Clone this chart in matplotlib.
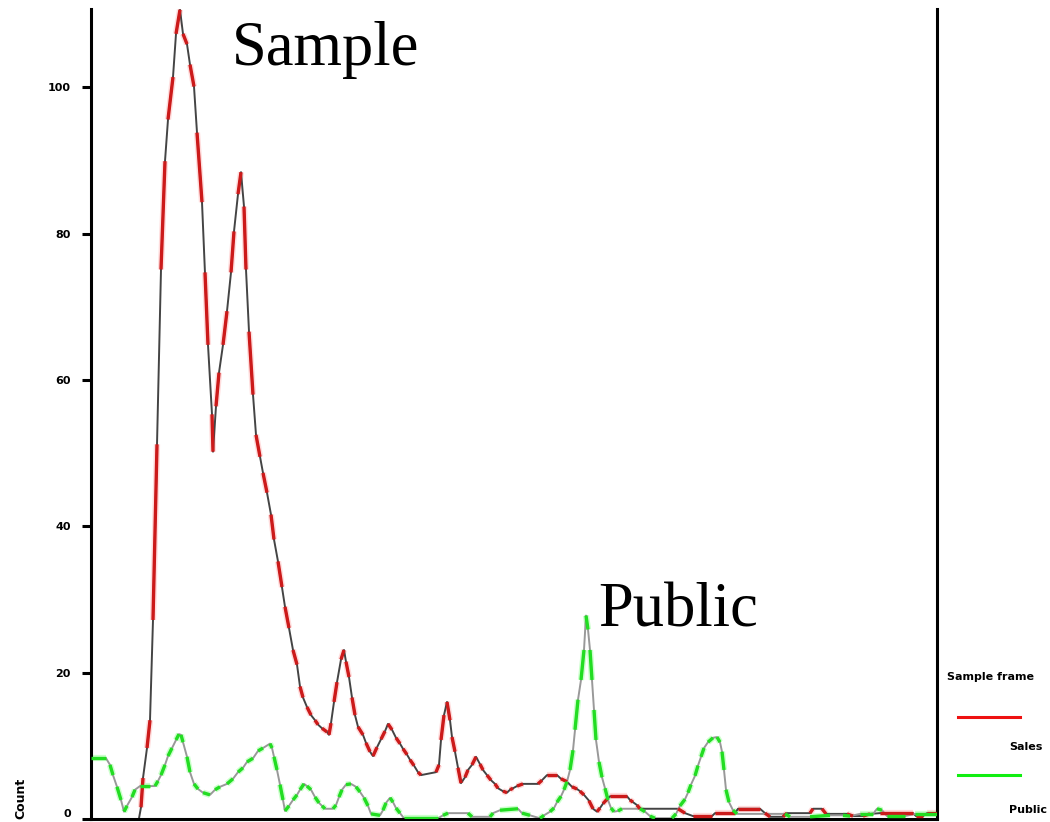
import matplotlib
matplotlib.use("Agg")
import matplotlib.pyplot as plt
from matplotlib.collections import LineCollection
from matplotlib.lines import Line2D
import numpy as np

# ---------------- data ----------------
sample_x = [48, 50, 52, 56, 59, 62, 66, 70, 74, 77, 82, 85, 89, 92, 96, 99, 103, 106, 111, 114,
            117, 121, 122, 125, 128, 132, 136, 140, 143, 147, 150, 153, 155, 158, 162, 165, 169,
            172, 176, 180, 183, 187, 191, 194, 198, 202, 206, 209, 212, 216, 220, 224, 227, 231,
            236, 238, 240, 243, 246, 250, 253, 255, 258, 261, 264, 267, 272, 275, 279, 282, 286,
            290, 294, 297, 301, 305, 309, 312, 316, 319, 323, 327, 330, 345, 348, 350, 353, 356,
            359, 361, 364, 367, 370, 374, 377, 381, 385, 389, 392, 396, 400, 404, 407, 412, 416,
            419, 422, 426, 432, 447, 451, 456, 466, 470, 476, 481, 486, 489, 493, 498, 502, 506,
            509, 512, 516, 519, 536, 539, 542, 546, 549, 587, 594, 602, 621, 624, 644, 647, 669,
            674, 679, 692, 696, 719, 722, 731, 735, 756, 762, 772, 779, 789, 822, 825, 832, 836, 846]
sample_y = [0.1, 1.6, 5.6, 9.7, 13.5, 27.2, 51.2, 75.1, 89.9, 95.6, 101.4, 107.3, 110.6, 107.3,
            105.9, 103.1, 100.1, 93.8, 84.3, 74.7, 64.8, 55.3, 50.2, 56.4, 61.0, 64.8, 69.4, 74.7,
            80.3, 85.4, 88.4, 83.7, 75.1, 66.6, 58.0, 52.5, 49.5, 47.3, 44.6, 41.6, 38.2, 35.2,
            31.7, 29.0, 26.1, 23.1, 21.1, 18.1, 16.6, 15.3, 14.2, 13.5, 12.9, 12.4, 11.9, 11.5,
            13.1, 16.0, 18.7, 21.8, 23.1, 21.5, 19.4, 16.6, 14.2, 12.6, 11.5, 10.4, 9.2, 8.6, 9.8,
            10.9, 12.0, 13.0, 12.2, 11.1, 10.3, 9.6, 8.8, 8.1, 7.3, 6.4, 6.0, 6.4, 7.4, 10.8, 14.2,
            16.0, 13.5, 11.2, 9.2, 7.0, 4.9, 5.7, 6.7, 7.4, 8.5, 7.5, 6.7, 6.0, 5.3, 4.8, 4.2, 3.8,
            3.6, 4.0, 4.2, 4.5, 4.8, 4.8, 5.3, 6.0, 6.0, 5.5, 5.1, 4.4, 4.1, 3.8, 3.3, 2.5, 1.4,
            1.0, 1.5, 2.1, 2.7, 3.1, 3.1, 2.6, 2.3, 1.9, 1.4, 1.4, 0.8, 0.4, 0.4, 0.8, 0.8, 1.4,
            1.4, 0.8, 0.3, 0.3, 0.8, 0.8, 1.4, 1.4, 0.7, 0.7, 0.4, 0.4, 0.7, 0.8, 0.8, 0.4, 0.4,
            0.8, 0.8]

public_x = [0, 15, 19, 22, 26, 30, 33, 36, 41, 44, 49, 59, 64, 67, 70, 74, 77, 81, 85, 88, 90,
            92, 96, 99, 103, 107, 112, 119, 124, 129, 136, 142, 147, 152, 156, 162, 167, 172, 179,
            181, 183, 186, 189, 192, 194, 198, 202, 206, 209, 213, 216, 220, 224, 228, 231, 234,
            242, 245, 248, 251, 255, 260, 265, 269, 273, 277, 280, 289, 292, 295, 299, 302, 305,
            309, 313, 347, 352, 357, 377, 381, 399, 402, 409, 427, 431, 439, 449, 453, 459, 463,
            466, 470, 473, 476, 479, 482, 484, 487, 490, 493, 495, 497, 499, 501, 503, 505, 508,
            511, 514, 517, 520, 523, 527, 531, 549, 554, 559, 564, 581, 585, 589, 594, 597, 600,
            604, 607, 610, 613, 617, 622, 626, 629, 631, 633, 635, 638, 642, 646, 694, 699, 719,
            739, 752, 759, 769, 782, 786, 791, 796, 814, 824, 846]
public_y = [8.3, 8.3, 7.4, 6.0, 4.4, 2.6, 1.0, 1.8, 3.0, 4.0, 4.5, 4.5, 4.5, 5.2, 6.0, 7.4, 8.6,
            9.7, 10.8, 11.6, 11.5, 10.5, 8.5, 6.4, 4.8, 4.1, 3.6, 3.3, 4.0, 4.4, 4.8, 5.5, 6.4,
            7.0, 7.8, 8.3, 9.3, 9.7, 10.3, 9.7, 8.5, 6.7, 4.7, 2.6, 1.1, 1.8, 2.6, 3.3, 4.0, 4.8,
            4.5, 4.0, 3.0, 2.2, 1.8, 1.4, 1.4, 1.9, 3.0, 4.0, 4.7, 4.8, 4.4, 3.7, 2.9, 1.8, 0.7,
            0.5, 1.2, 2.2, 2.9, 2.3, 1.5, 0.8, 0.1, 0.1, 0.5, 0.8, 0.8, 0.3, 0.3, 0.8, 1.2, 1.4,
            0.8, 0.5, 0.1, 0.5, 1.0, 1.5, 2.3, 3.1, 4.0, 5.1, 6.7, 9.4, 12.2, 16.3, 19.0, 23.1,
            27.8, 25.9, 23.1, 19.0, 14.9, 10.8, 7.8, 5.7, 4.2, 2.6, 1.5, 1.0, 1.1, 1.4, 1.4, 1.0,
            0.4, 0.1, 0.1, 0.7, 1.8, 2.7, 3.6, 4.7, 5.9, 7.3, 8.5, 9.7, 10.5, 11.1, 11.2, 10.5,
            9.2, 6.7, 4.0, 2.3, 1.2, 0.7, 0.7, 0.3, 0.3, 0.5, 0.5, 0.4, 0.7, 0.7, 1.4, 1.2, 0.4,
            0.4, 0.7, 0.7]

y_ticks = [0, 20, 40, 60, 80, 100]
y_tick_labels = ["0", "20", "40", "60", "80", "100"]
y_label = "Count"
legend_title = "Sample frame"
series_names = ["Sales", "Public"]
annotations = [("Sample", 141, 103.1), ("Public", 507, 26.3)]

# ---------------- figure ----------------
fig = plt.figure(figsize=(10.5, 8.22), dpi=100)
ax = fig.add_axes([91 / 1050, 3 / 822, 846 / 1050, 810 / 822])
ax.set_xlim(0, 846)
ax.set_ylim(0, 110.7)


def alt_line(ax, x, y, base, accent, halo, start):
    pts = np.column_stack([x, y])
    segs = np.stack([pts[:-1], pts[1:]], axis=1)[start::2]
    ax.add_collection(LineCollection(segs, colors=halo, linewidths=4.5, zorder=1.5,
                                     capstyle="butt"))
    ax.plot(x, y, color=base, lw=1.4, zorder=2)
    ax.add_collection(LineCollection(segs, colors=accent, linewidths=2.4, zorder=3,
                                     capstyle="butt"))


alt_line(ax, sample_x, sample_y, "#444444", "#cc1a1a", "#ffdcdc", 1)
alt_line(ax, public_x, public_y, "#999999", "#22dd22", "#ccffcc", 0)

for txt, xx, yy in annotations:
    ax.text(xx, yy, txt, family="Liberation Serif", fontsize=45, va="baseline",
            ha="left", color="black", zorder=4)

ax.spines["top"].set_visible(False)
for side in ["left", "right", "bottom"]:
    ax.spines[side].set_linewidth(2.2)
    ax.spines[side].set_color("black")

ax.set_xticks([])
ax.set_yticks(y_ticks)
ax.set_yticklabels(y_tick_labels, fontsize=8, fontweight="bold")
ax.tick_params(axis="y", length=6.5, width=2.2, pad=8, direction="out")
ax.get_yticklabels()[0].set_verticalalignment("bottom")

ax.set_ylabel(y_label, fontsize=9, fontweight="bold", loc="bottom")
ax.yaxis.set_label_coords(-0.0757, 0.0)

# legend (drawn manually to match the original layout)
fig.text(947 / 1050, 1 - 677 / 822, legend_title, fontsize=8, fontweight="bold",
         ha="left", va="center")
fig.add_artist(Line2D([958 / 1050, 1020 / 1050], [1 - 717 / 822] * 2,
                      color="#ee1111", lw=2.2))
fig.text(1009 / 1050, 1 - 747 / 822, series_names[0], fontsize=8, fontweight="bold",
         ha="left", va="center")
fig.add_artist(Line2D([958 / 1050, 1020 / 1050], [1 - 775 / 822] * 2,
                      color="#11ee11", lw=2.2))
fig.text(1009 / 1050, 1 - 810 / 822, series_names[1], fontsize=8, fontweight="bold",
         ha="left", va="center")

fig.savefig("out.png", dpi=100)
